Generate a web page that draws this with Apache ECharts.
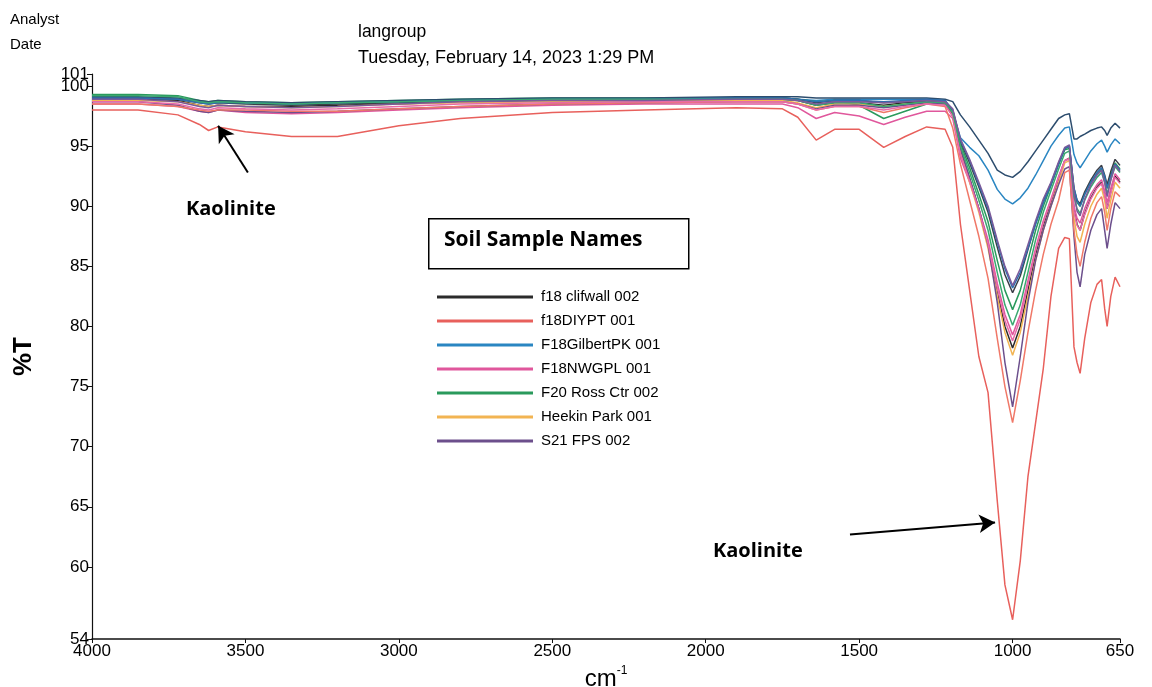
<!DOCTYPE html>
<html>
<head>
<meta charset="utf-8">
<script src="https://cdn.jsdelivr.net/npm/echarts@6/dist/echarts.min.js"></script>
<style>
html,body{margin:0;padding:0;background:#fff;}
#chart{width:1152px;height:687px;}
</style>
</head>
<body>
<div id="chart"></div>
<script>
// ---- data ----
const wavenumbers = [4000,3850,3720,3650,3620,3590,3500,3350,3200,3000,2800,2500,2200,1900,1750,1700,1640,1580,1500,1420,1350,1280,1220,
  1195,1170,1140,1110,1080,1050,1025,1000,975,950,925,900,875,850,830,815,800,790,780,765,745,725,710,700,692,680,666,650];

const xTicks = [4000,3500,3000,2500,2000,1500,1000,650];
const yTicks = [54,60,65,70,75,80,85,90,95,100,101];

const sampleNames = ['f18 clifwall 002','f18DIYPT 001','F18GilbertPK 001','F18NWGPL 001','F20 Ross Ctr 002','Heekin Park 001','S21 FPS 002'];

const clifwallA = [98.9,98.9,98.8,98.4,98.3,98.4,98.3,98.3,98.4,98.5,98.7,98.8,98.8,98.9,98.9,98.8,98.4,98.6,98.6,98.4,98.6,98.7,98.6,
  97.6,94.7,92.3,89.8,86.9,83.0,80.0,78.2,80.0,83.0,86.0,88.4,90.3,92.3,93.8,94.0,89.8,88.5,88.0,89.4,90.7,91.6,92.0,91.0,89.8,91.2,92.5,92.0];
const clifwallB = [99.0,99.0,98.9,98.6,98.5,98.6,98.5,98.4,98.5,98.6,98.8,98.9,98.9,99.0,99.0,98.9,98.6,98.8,98.8,98.6,98.7,98.8,98.7,
  98.0,95.4,93.6,91.6,89.5,86.6,84.3,82.8,84.2,86.4,88.6,90.4,91.9,93.6,94.8,95.0,91.5,90.5,90.2,91.2,92.2,93.0,93.4,92.6,91.8,92.9,93.9,93.4];
const diyptA = [98.0,98.0,97.6,96.8,96.3,96.6,96.2,95.8,95.8,96.7,97.3,97.8,98.0,98.2,98.1,97.4,95.5,96.4,96.4,94.9,95.8,96.6,96.4,
  94.9,88.5,83.0,77.5,74.5,65.5,58.5,55.6,60.5,67.5,72.0,76.5,82.5,86.5,87.4,87.3,78.3,77.0,76.1,79.0,82.0,83.5,83.9,81.5,80.0,82.5,84.1,83.3];
const diyptB = [98.5,98.5,98.3,98.0,97.9,98.0,98.0,97.9,97.9,98.1,98.3,98.5,98.6,98.7,98.7,98.5,98.0,98.3,98.3,97.8,98.2,98.5,98.3,
  96.5,93.5,90.5,87.5,84.0,79.0,75.0,72.0,75.5,79.5,83.0,86.0,88.5,90.5,92.8,93.0,88.0,86.0,85.0,87.0,89.0,90.3,90.8,89.5,88.0,89.8,91.2,90.8];
const gilbertA = [99.0,99.0,98.9,98.7,98.6,98.7,98.6,98.5,98.6,98.7,98.8,98.9,98.9,99.0,99.0,98.9,98.8,98.9,98.9,98.9,98.9,98.9,98.8,
  97.8,95.7,94.9,94.2,93.0,91.4,90.6,90.2,90.7,91.5,92.6,93.8,95.0,95.9,96.5,96.6,94.3,93.6,93.2,93.8,94.6,95.2,95.5,95.0,94.5,95.1,95.6,95.2];
const gilbertB = [99.1,99.1,99.0,98.8,98.7,98.8,98.7,98.6,98.7,98.8,98.9,99.0,99.0,99.1,99.1,99.1,99.0,99.0,99.0,99.0,99.0,99.0,98.9,
  98.7,97.6,96.6,95.5,94.4,93.0,92.6,92.4,92.9,93.7,94.6,95.5,96.4,97.3,97.6,97.7,95.6,95.6,95.8,96.0,96.3,96.5,96.6,96.3,95.9,96.5,96.9,96.5];
const gilbertC = [99.0,99.0,98.9,98.6,98.5,98.6,98.6,98.5,98.6,98.7,98.8,98.9,98.9,99.0,99.0,98.9,98.7,98.8,98.8,98.7,98.8,98.9,98.8,
  98.0,95.5,93.8,91.8,89.8,87.0,84.8,83.2,84.5,86.5,88.5,90.3,91.8,93.5,94.8,95.0,91.5,90.5,90.0,91.0,92.0,92.8,93.2,92.5,91.5,92.5,93.5,93.0];
const nwgplA = [98.5,98.5,98.3,97.9,97.8,98.0,97.8,97.7,97.8,98.0,98.2,98.4,98.5,98.5,98.5,98.2,97.3,97.8,97.5,96.8,97.4,97.9,97.9,
  97.3,94.0,92.0,89.8,87.2,83.6,81.0,79.3,81.0,83.8,86.5,88.8,90.6,92.5,93.8,94.0,90.0,89.0,88.6,89.8,91.0,91.8,92.2,91.3,90.3,91.5,92.7,92.2];
const nwgplB = [98.7,98.7,98.5,98.1,98.0,98.2,98.1,98.0,98.1,98.3,98.5,98.6,98.7,98.7,98.7,98.5,98.0,98.3,98.3,98.0,98.3,98.5,98.4,
  97.5,94.3,92.1,89.7,86.9,83.2,80.5,78.8,80.6,83.5,86.3,88.6,90.5,92.4,93.8,93.9,89.6,88.4,88.0,89.3,90.6,91.5,91.9,90.9,89.8,91.1,92.4,91.9];
const rossA = [99.3,99.3,99.2,98.8,98.7,98.8,98.7,98.6,98.7,98.8,98.9,99.0,99.0,99.0,99.0,98.9,98.7,98.8,98.4,97.3,97.9,98.5,98.6,
  97.9,95.2,93.2,91.0,88.7,85.5,83.0,81.4,83.0,85.5,88.0,90.0,91.7,93.5,94.7,94.8,91.2,90.3,90.0,91.0,92.0,92.7,93.1,92.3,91.5,92.6,93.6,93.1];
const rossB = [99.2,99.2,99.1,98.7,98.6,98.7,98.6,98.5,98.6,98.7,98.8,98.9,98.9,98.9,98.9,98.8,98.4,98.6,98.6,98.3,98.5,98.7,98.6,
  97.8,95.0,92.8,90.5,88.0,84.5,81.8,80.1,81.8,84.5,87.2,89.5,91.3,93.1,94.4,94.6,90.8,89.8,89.4,90.5,91.6,92.4,92.8,92.0,91.0,92.2,93.3,92.8];
const heekin = [98.8,98.8,98.7,98.4,98.3,98.4,98.3,98.2,98.3,98.5,98.6,98.7,98.8,98.8,98.8,98.6,98.2,98.5,98.5,98.3,98.5,98.6,98.5,
  97.5,94.5,92.0,89.5,86.5,82.5,79.5,77.6,79.5,82.5,85.5,88.0,90.0,92.0,93.6,93.8,89.0,87.5,87.0,88.5,90.0,91.0,91.5,90.5,89.0,90.5,92.0,91.5];
const s21A = [98.7,98.7,98.4,97.9,97.8,98.0,97.9,97.8,97.9,98.1,98.3,98.5,98.6,98.7,98.7,98.5,98.1,98.4,98.4,98.2,98.4,98.6,98.5,
  97.5,94.8,92.3,89.8,86.8,82.0,77.0,73.3,77.5,82.0,85.5,88.0,90.0,91.8,93.1,93.3,87.5,84.5,83.3,86.0,88.0,89.3,89.8,88.0,86.5,88.5,90.3,89.8];
const s21B = [98.9,98.9,98.7,98.3,98.2,98.4,98.3,98.2,98.3,98.5,98.7,98.8,98.8,98.9,98.9,98.8,98.5,98.7,98.7,98.6,98.7,98.8,98.7,
  98.1,95.6,93.9,92.0,90.0,87.2,85.0,83.4,84.8,86.8,88.8,90.6,92.0,93.7,94.9,95.1,91.2,89.6,89.2,90.6,91.8,92.6,93.0,92.0,90.8,92.2,93.4,92.9];

// annotation arrows (data coordinates: wavenumber, %T)
const arrow1 = [[3492, 92.8], [3589, 96.7]];
const arrow2 = [[1530, 62.7], [1057, 63.7]];

// ---- build ----
const curves = [
  {name: sampleNames[0], color: '#2b2b2b', values: clifwallA},
  {name: sampleNames[1], color: '#e8605c', values: diyptA},
  {name: sampleNames[2], color: '#2a86c2', values: gilbertA},
  {name: sampleNames[3], color: '#e0579c', values: nwgplA},
  {name: sampleNames[4], color: '#2a9a5c', values: rossA},
  {name: sampleNames[5], color: '#f2b452', values: heekin},
  {name: sampleNames[6], color: '#6c4f8c', values: s21A},
  {name: sampleNames[0], color: '#3b3f48', values: clifwallB},
  {name: sampleNames[1], color: '#f07868', values: diyptB},
  {name: sampleNames[2], color: '#2d4d6e', values: gilbertB},
  {name: sampleNames[2], color: '#2f6fae', values: gilbertC},
  {name: sampleNames[3], color: '#e86aa8', values: nwgplB},
  {name: sampleNames[4], color: '#3aa870', values: rossB},
  {name: sampleNames[6], color: '#7a5a9a', values: s21B}
];

const series = curves.map((c) => ({
  type: 'line',
  name: c.name,
  yAxisIndex: 0,
  data: wavenumbers.map((w, k) => [w, c.values[k]]),
  showSymbol: false,
  symbol: 'none',
  lineStyle: {color: c.color, width: 1.5},
  itemStyle: {color: c.color},
  emphasis: {disabled: true},
  z: 2
}));

series.push({
  type: 'line',
  name: '_arrows',
  yAxisIndex: 0,
  data: [],
  silent: true,
  markLine: {
    silent: true,
    symbol: ['none', 'arrow'],
    symbolSize: [14, 16],
    label: {show: false},
    lineStyle: {color: '#000', width: 2, type: 'solid'},
    emphasis: {disabled: true},
    data: [
      [{coord: arrow1[0]}, {coord: arrow1[1]}],
      [{coord: arrow2[0]}, {coord: arrow2[1]}]
    ]
  }
});

// the 100 label sits very close to 101, so it is drawn by a twin axis with the same scale
const mainYTicks = yTicks.filter(v => v !== 100);
const twinYTicks = yTicks.filter(v => v === 100);
const yLabelStyle = {fontFamily: 'Liberation Sans', fontSize: 17, color: '#000', margin: 3};

const chart = echarts.init(document.getElementById('chart'));
chart.setOption({
  animation: false,
  backgroundColor: '#fff',
  grid: {left: 92, right: 32, top: 74, bottom: 48, containLabel: false, outerBoundsMode: 'none'},
  xAxis: {
    type: 'value', inverse: true, min: 650, max: 4000,
    name: '{a|cm}{b|-1}', nameLocation: 'middle', nameGap: 15,
    nameTextStyle: {rich: {
      a: {fontFamily: 'Liberation Sans', fontSize: 24, color: '#000', verticalAlign: 'bottom', lineHeight: 26},
      b: {fontFamily: 'Liberation Sans', fontSize: 12, color: '#000', verticalAlign: 'top', lineHeight: 26, padding: [0,0,12,0]}
    }},
    axisLine: {show: true, onZero: false, lineStyle: {color: '#111', width: 1.5}},
    axisTick: {show: true, length: 4, customValues: xTicks, lineStyle: {color: '#111'}},
    axisLabel: {customValues: xTicks, formatter: (v) => String(v), showMinLabel: true, showMaxLabel: true,
      fontFamily: 'Liberation Sans', fontSize: 17, color: '#000', margin: 4},
    splitLine: {show: false}
  },
  yAxis: [{
    type: 'value', min: 54, max: 101, position: 'left',
    name: '%T', nameLocation: 'middle', nameGap: 55, nameRotate: 90,
    nameTextStyle: {fontFamily: 'Liberation Sans', fontSize: 26, fontWeight: 'bold', color: '#000'},
    axisLine: {show: true, onZero: false, lineStyle: {color: '#111', width: 1.2}},
    axisTick: {show: true, length: 5, customValues: mainYTicks, lineStyle: {color: '#111'}},
    axisLabel: Object.assign({customValues: mainYTicks, formatter: (v) => String(v), showMinLabel: true, showMaxLabel: true}, yLabelStyle),
    splitLine: {show: false}
  }, {
    type: 'value', min: 54, max: 101, position: 'left', offset: 0,
    axisLine: {show: false},
    axisTick: {show: true, length: 5, customValues: twinYTicks, lineStyle: {color: '#111'}},
    axisLabel: Object.assign({customValues: twinYTicks, formatter: (v) => String(v), showMinLabel: true, showMaxLabel: true}, yLabelStyle),
    splitLine: {show: false}
  }],
  legend: {
    data: sampleNames,
    orient: 'vertical',
    left: 432, top: 283,
    icon: 'rect',
    itemWidth: 96, itemHeight: 3,
    itemGap: 6,
    selectedMode: false,
    textStyle: {fontFamily: 'Liberation Sans', fontSize: 15, color: '#000', lineHeight: 18, padding: [0,0,0,3]}
  },
  graphic: [
    {type: 'text', left: 10, top: 12, style: {text: 'Analyst', font: '15px "Liberation Sans"', fill: '#000'}},
    {type: 'text', left: 10, top: 37, style: {text: 'Date', font: '15px "Liberation Sans"', fill: '#000'}},
    {type: 'text', left: 358, top: 23, style: {text: 'langroup', font: '17.5px "Liberation Sans"', fill: '#000'}},
    {type: 'text', left: 358, top: 49, style: {text: 'Tuesday, February 14, 2023 1:29 PM', font: '18px "Liberation Sans"', fill: '#000'}},
    {type: 'rect', left: 428, top: 218, shape: {width: 260, height: 50}, style: {fill: '#fff', stroke: '#000', lineWidth: 1.5}},
    {type: 'text', left: 444, top: 230, style: {text: 'Soil Sample Names', font: 'bold 21px "Open Sans"', fill: '#000'}},
    {type: 'text', left: 186, top: 199, style: {text: 'Kaolinite', font: 'bold 20px "Open Sans"', fill: '#000'}},
    {type: 'text', left: 713, top: 541, style: {text: 'Kaolinite', font: 'bold 20px "Open Sans"', fill: '#000'}}
  ],
  series: series
});
</script>
</body>
</html>
